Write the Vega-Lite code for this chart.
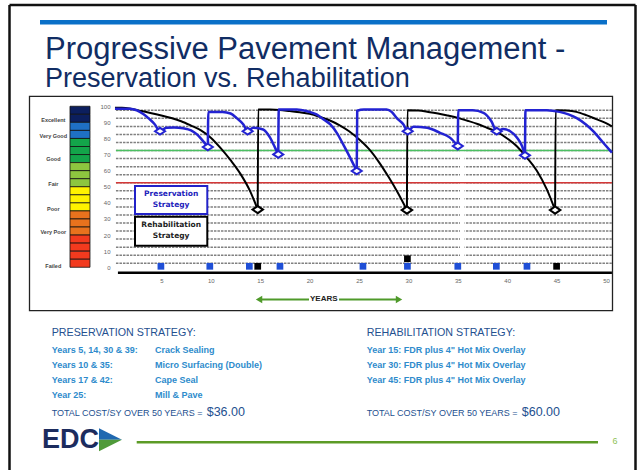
{
  "$schema": "https://vega.github.io/schema/vega-lite/v6.json",
  "width": 638,
  "height": 472,
  "padding": 0,
  "autosize": {"type": "fit", "contains": "padding"},
  "background": "white",
  "config": {"view": {"stroke": null}, "font": "Liberation Sans"},
  "data": {"values": [{}]},
  "datasets": {
    "grid": [{"g": 2.5},{"g": 7.5},{"g": 12.5},{"g": 17.5},{"g": 22.5},{"g": 27.5},{"g": 32.5},{"g": 37.5},{"g": 42.5},{"g": 47.5},{"g": 52.5},{"g": 57.5},{"g": 62.5},{"g": 67.5},{"g": 72.5},{"g": 77.5},{"g": 82.5},{"g": 87.5},{"g": 92.5},{"g": 97.5}],
    "bar": [
      {"lo": 95, "hi": 100, "grade": "Excellent"},
      {"lo": 90, "hi": 95, "grade": "Excellent"},
      {"lo": 85, "hi": 90, "grade": "Very Good"},
      {"lo": 80, "hi": 85, "grade": "Very Good"},
      {"lo": 75, "hi": 80, "grade": "Good"},
      {"lo": 70, "hi": 75, "grade": "Good"},
      {"lo": 65, "hi": 70, "grade": "Good"},
      {"lo": 60, "hi": 65, "grade": "Fair"},
      {"lo": 55, "hi": 60, "grade": "Fair"},
      {"lo": 50, "hi": 55, "grade": "Fair"},
      {"lo": 45, "hi": 50, "grade": "Poor"},
      {"lo": 40, "hi": 45, "grade": "Poor"},
      {"lo": 35, "hi": 40, "grade": "Poor"},
      {"lo": 30, "hi": 35, "grade": "Very Poor"},
      {"lo": 25, "hi": 30, "grade": "Very Poor"},
      {"lo": 20, "hi": 25, "grade": "Very Poor"},
      {"lo": 15, "hi": 20, "grade": "Failed"},
      {"lo": 10, "hi": 15, "grade": "Failed"},
      {"lo": 5, "hi": 10, "grade": "Failed"},
      {"lo": 0, "hi": 5, "grade": "Failed"}
    ],
    "grades": [
      {"grade": "Excellent", "pos": 91.7},
      {"grade": "Very Good", "pos": 81.5},
      {"grade": "Good", "pos": 67},
      {"grade": "Fair", "pos": 52},
      {"grade": "Poor", "pos": 36},
      {"grade": "Very Poor", "pos": 22},
      {"grade": "Failed", "pos": 1}
    ],
    "rehab": [
      {"seg": "r1", "year": 0.3, "pci": 99},{"seg": "r1", "year": 1, "pci": 99},{"seg": "r1", "year": 2, "pci": 98.3},{"seg": "r1", "year": 3, "pci": 97},{"seg": "r1", "year": 4, "pci": 95.7},{"seg": "r1", "year": 5, "pci": 94.3},{"seg": "r1", "year": 6, "pci": 92.7},{"seg": "r1", "year": 7, "pci": 90.7},{"seg": "r1", "year": 8, "pci": 88},{"seg": "r1", "year": 9, "pci": 85},{"seg": "r1", "year": 10, "pci": 80.5},{"seg": "r1", "year": 11, "pci": 74},{"seg": "r1", "year": 12, "pci": 66.5},{"seg": "r1", "year": 13, "pci": 58},{"seg": "r1", "year": 14, "pci": 47},{"seg": "r1", "year": 14.75, "pci": 35.8},
      {"seg": "r2", "year": 14.75, "pci": 35.8},{"seg": "r2", "year": 14.8, "pci": 98},{"seg": "r2", "year": 16, "pci": 98},{"seg": "r2", "year": 17, "pci": 97.7},{"seg": "r2", "year": 18, "pci": 97},{"seg": "r2", "year": 19, "pci": 96.3},{"seg": "r2", "year": 20, "pci": 95.3},{"seg": "r2", "year": 21, "pci": 93.5},{"seg": "r2", "year": 22, "pci": 91.3},{"seg": "r2", "year": 23, "pci": 88.3},{"seg": "r2", "year": 24, "pci": 84.5},{"seg": "r2", "year": 25, "pci": 79.5},{"seg": "r2", "year": 26, "pci": 73.5},{"seg": "r2", "year": 27, "pci": 65.5},{"seg": "r2", "year": 28, "pci": 56},{"seg": "r2", "year": 29, "pci": 45.5},{"seg": "r2", "year": 29.85, "pci": 35.5},
      {"seg": "r3", "year": 29.85, "pci": 35.5},{"seg": "r3", "year": 29.9, "pci": 97.5},{"seg": "r3", "year": 31, "pci": 97.3},{"seg": "r3", "year": 32, "pci": 96.5},{"seg": "r3", "year": 33, "pci": 95.5},{"seg": "r3", "year": 34, "pci": 94.2},{"seg": "r3", "year": 35, "pci": 92.8},{"seg": "r3", "year": 36, "pci": 91},{"seg": "r3", "year": 37, "pci": 89},{"seg": "r3", "year": 38, "pci": 86.5},{"seg": "r3", "year": 39, "pci": 84},{"seg": "r3", "year": 40, "pci": 80},{"seg": "r3", "year": 41, "pci": 75},{"seg": "r3", "year": 42, "pci": 68},{"seg": "r3", "year": 43, "pci": 60},{"seg": "r3", "year": 44, "pci": 48.5},{"seg": "r3", "year": 44.85, "pci": 35.5},
      {"seg": "r4", "year": 44.85, "pci": 35.5},{"seg": "r4", "year": 44.9, "pci": 97.5},{"seg": "r4", "year": 46, "pci": 97.3},{"seg": "r4", "year": 47, "pci": 96.5},{"seg": "r4", "year": 48, "pci": 94.5},{"seg": "r4", "year": 49, "pci": 92},{"seg": "r4", "year": 50, "pci": 89.5},{"seg": "r4", "year": 50.6, "pci": 87.5}
    ],
    "pres": [
      {"seg": "p1", "year": 0.3, "pci": 98.5},{"seg": "p1", "year": 1.8, "pci": 98.5},{"seg": "p1", "year": 2.5, "pci": 97.5},{"seg": "p1", "year": 3.2, "pci": 95},{"seg": "p1", "year": 3.8, "pci": 92},{"seg": "p1", "year": 4.3, "pci": 89},{"seg": "p1", "year": 4.86, "pci": 84.5},{"seg": "p1", "year": 5.5, "pci": 86.6},{"seg": "p1", "year": 6.3, "pci": 86.8},{"seg": "p1", "year": 7.2, "pci": 86.3},{"seg": "p1", "year": 8, "pci": 85},{"seg": "p1", "year": 8.6, "pci": 82.5},{"seg": "p1", "year": 9.2, "pci": 78.5},{"seg": "p1", "year": 9.7, "pci": 74.7},
      {"seg": "p2", "year": 9.7, "pci": 74.7},{"seg": "p2", "year": 9.75, "pci": 96.5},{"seg": "p2", "year": 11.2, "pci": 96.5},{"seg": "p2", "year": 12, "pci": 95.5},{"seg": "p2", "year": 12.6, "pci": 92.8},{"seg": "p2", "year": 13.3, "pci": 88.7},{"seg": "p2", "year": 13.73, "pci": 84.5},{"seg": "p2", "year": 14.3, "pci": 86.6},{"seg": "p2", "year": 15.3, "pci": 85.6},{"seg": "p2", "year": 16, "pci": 80.5},{"seg": "p2", "year": 16.5, "pci": 74.3},{"seg": "p2", "year": 16.83, "pci": 70.1},
      {"seg": "p3", "year": 16.83, "pci": 70.1},{"seg": "p3", "year": 16.88, "pci": 98},{"seg": "p3", "year": 18.7, "pci": 98},{"seg": "p3", "year": 19.7, "pci": 97},{"seg": "p3", "year": 20.7, "pci": 94.9},{"seg": "p3", "year": 21.5, "pci": 91.5},{"seg": "p3", "year": 22.1, "pci": 88.7},{"seg": "p3", "year": 22.8, "pci": 83},{"seg": "p3", "year": 23.4, "pci": 76.3},{"seg": "p3", "year": 24.1, "pci": 68.1},{"seg": "p3", "year": 24.77, "pci": 59.8},
      {"seg": "p4", "year": 24.77, "pci": 59.8},{"seg": "p4", "year": 24.82, "pci": 97.2},{"seg": "p4", "year": 25.5, "pci": 98},{"seg": "p4", "year": 27.8, "pci": 98},{"seg": "p4", "year": 28.3, "pci": 96.5},{"seg": "p4", "year": 28.8, "pci": 92.8},{"seg": "p4", "year": 29.5, "pci": 88.7},{"seg": "p4", "year": 29.93, "pci": 84.5},{"seg": "p4", "year": 30.5, "pci": 87.3},{"seg": "p4", "year": 31.9, "pci": 86.6},{"seg": "p4", "year": 33.2, "pci": 83.5},{"seg": "p4", "year": 34.2, "pci": 80.5},{"seg": "p4", "year": 35, "pci": 75.3},
      {"seg": "p5", "year": 35, "pci": 75.3},{"seg": "p5", "year": 35.05, "pci": 97.5},{"seg": "p5", "year": 36.5, "pci": 97.5},{"seg": "p5", "year": 37.6, "pci": 95.9},{"seg": "p5", "year": 38.4, "pci": 90.7},{"seg": "p5", "year": 38.94, "pci": 84.5},{"seg": "p5", "year": 39.6, "pci": 85.8},{"seg": "p5", "year": 40.3, "pci": 84.5},{"seg": "p5", "year": 41, "pci": 80.5},{"seg": "p5", "year": 41.5, "pci": 75.3},{"seg": "p5", "year": 41.8, "pci": 69.5},
      {"seg": "p6", "year": 41.8, "pci": 69.5},{"seg": "p6", "year": 41.85, "pci": 97.5},{"seg": "p6", "year": 44, "pci": 97.5},{"seg": "p6", "year": 45.3, "pci": 96.5},{"seg": "p6", "year": 46.2, "pci": 95},{"seg": "p6", "year": 47, "pci": 92.8},{"seg": "p6", "year": 48, "pci": 88.5},{"seg": "p6", "year": 48.7, "pci": 84.5},{"seg": "p6", "year": 49.7, "pci": 77.5},{"seg": "p6", "year": 50.6, "pci": 71.2}
    ],
    "rehab_pts": [{"year": 14.75, "pci": 35.8},{"year": 29.85, "pci": 35.5},{"year": 44.85, "pci": 35.5}],
    "pres_pts": [{"year": 4.86, "pci": 84.5},{"year": 9.7, "pci": 74.7},{"year": 13.73, "pci": 84.5},{"year": 16.83, "pci": 70.1},{"year": 24.77, "pci": 59.8},{"year": 29.93, "pci": 84.5},{"year": 35, "pci": 75.3},{"year": 38.94, "pci": 84.5},{"year": 41.8, "pci": 69.5}],
    "pres_treat": [{"year": 4.95, "pci": 0.6},{"year": 9.9, "pci": 0.6},{"year": 13.9, "pci": 0.6},{"year": 17.0, "pci": 0.6},{"year": 25.4, "pci": 0.6},{"year": 29.9, "pci": 0.6},{"year": 35.0, "pci": 0.6},{"year": 38.9, "pci": 0.6},{"year": 42.0, "pci": 0.6}],
    "rehab_treat": [{"year": 14.75, "pci": 0.6},{"year": 29.9, "pci": 5.3},{"year": 45.0, "pci": 0.6}]
  },
  "layer": [
    {"mark": {"type": "rule", "stroke": "#111", "strokeWidth": 2.5}, "encoding": {"x": {"datum": -10.374}, "y": {"datum": 162.89}, "y2": {"datum": -125.85}}},
    {"mark": {"type": "rule", "stroke": "#111", "strokeWidth": 2.5}, "encoding": {"x": {"datum": -10.374}, "x2": {"datum": 52.986}, "y": {"datum": 162.89}}},
    {"mark": {"type": "rule", "stroke": "#111", "strokeWidth": 2.5}, "encoding": {"x": {"datum": 52.986}, "y": {"datum": 162.89}, "y2": {"datum": -125.85}}},
    {"mark": {"type": "rect", "fill": "#0a70c8"}, "encoding": {"x": {"datum": -7.287}, "x2": {"datum": 50.101}, "y": {"datum": 153.61}, "y2": {"datum": 150.83}}},
    {"mark": {"type": "text", "align": "left", "baseline": "alphabetic", "font": "Liberation Sans", "fontSize": 31, "color": "#112d64"}, "encoding": {"x": {"datum": -6.78}, "y": {"datum": 129.5}, "text": {"value": "Progressive Pavement Management -"}}},
    {"mark": {"type": "text", "align": "left", "baseline": "alphabetic", "font": "Liberation Sans", "fontSize": 27, "color": "#112d64"}, "encoding": {"x": {"datum": -6.78}, "y": {"datum": 111.87}, "text": {"value": "Preservation vs. Rehabilitation"}}},
    {"mark": {"type": "rect", "fillOpacity": 0, "stroke": "#222", "strokeWidth": 1.3}, "encoding": {"x": {"datum": -8.35}, "x2": {"datum": 50.658}, "y": {"datum": 106.12}, "y2": {"datum": -26.96}}},
    {
      "data": {"name": "bar"},
      "mark": {"type": "rect", "stroke": "#111", "strokeWidth": 0.8},
      "encoding": {
        "x": {"datum": -4.251}, "x2": {"datum": -2.227},
        "y": {"field": "lo", "type": "quantitative", "title": null}, "y2": {"field": "hi"},
        "color": {"field": "grade", "type": "nominal", "legend": null, "scale": {"domain": ["Excellent", "Very Good", "Good", "Fair", "Poor", "Very Poor", "Failed"], "range": ["#0c1f5e", "#1f70c4", "#13a54a", "#8dc63f", "#fff200", "#e8721d", "#f23a1e"]}}
      }
    },
    {
      "data": {"name": "grades"},
      "mark": {"type": "text", "align": "center", "baseline": "middle", "font": "Liberation Sans", "fontWeight": "bold", "fontSize": 5.5, "color": "#444"},
      "encoding": {"x": {"datum": -5.94}, "y": {"field": "pos", "type": "quantitative", "title": null}, "text": {"field": "grade"}}
    },
    {
      "data": {"name": "grid"},
      "mark": {"type": "rule", "stroke": "#808080", "strokeWidth": 1.5, "strokeDash": [2.5, 1]},
      "encoding": {"x": {"datum": 0.4}, "x2": {"datum": 50.6}, "y": {"field": "g", "type": "quantitative", "title": null}}
    },
    {"mark": {"type": "rect", "fill": "white"}, "encoding": {"x": {"datum": 35.22}, "x2": {"datum": 35.68}, "y": {"datum": 82.5}, "y2": {"datum": 4.1}}},
    {"mark": {"type": "rule", "stroke": "#4cbf62", "strokeWidth": 1.6}, "encoding": {"x": {"datum": 0.4}, "x2": {"datum": 50.6}, "y": {"datum": 72.5}}},
    {"mark": {"type": "rule", "stroke": "#d43838", "strokeWidth": 1.6}, "encoding": {"x": {"datum": 0.4}, "x2": {"datum": 50.6}, "y": {"datum": 52.5}}},
    {"mark": {"type": "rule", "stroke": "#000", "strokeWidth": 2.5}, "encoding": {"x": {"datum": 0.6}, "x2": {"datum": 50.6}, "y": {"datum": -3.46}}},
    {"mark": {"type": "rect", "fill": "white", "stroke": "#2222c8", "strokeWidth": 2}, "encoding": {"x": {"datum": 2.328}, "x2": {"datum": 9.646}, "y": {"datum": 50.53}, "y2": {"datum": 33.02}}},
    {"mark": {"type": "rect", "fill": "white", "stroke": "#000", "strokeWidth": 2}, "encoding": {"x": {"datum": 2.328}, "x2": {"datum": 9.646}, "y": {"datum": 31.35}, "y2": {"datum": 13.42}}},
    {"mark": {"type": "text", "align": "center", "baseline": "alphabetic", "font": "DejaVu Sans", "fontWeight": "bold", "fontSize": 7.5, "lineHeight": 10.7, "color": "#2222bb"}, "encoding": {"x": {"datum": 5.99}, "y": {"datum": 44.16}, "text": {"value": ["Preservation", "Strategy"]}}},
    {"mark": {"type": "text", "align": "center", "baseline": "alphabetic", "font": "DejaVu Sans", "fontWeight": "bold", "fontSize": 7.5, "lineHeight": 11.2, "color": "#222"}, "encoding": {"x": {"datum": 5.99}, "y": {"datum": 25.17}, "text": {"value": ["Rehabilitation", "Strategy"]}}},
    {
      "data": {"name": "rehab"},
      "mark": {"type": "line", "interpolate": "monotone", "stroke": "#000", "strokeWidth": 2},
      "encoding": {"x": {"field": "year", "type": "quantitative", "title": null}, "y": {"field": "pci", "type": "quantitative", "title": null}, "detail": {"field": "seg"}}
    },
    {
      "data": {"name": "pres"},
      "mark": {"type": "line", "interpolate": "monotone", "stroke": "#2323d2", "strokeWidth": 2.5},
      "encoding": {"x": {"field": "year", "type": "quantitative", "title": null}, "y": {"field": "pci", "type": "quantitative", "title": null}, "detail": {"field": "seg"}}
    },
    {
      "data": {"name": "rehab_pts"},
      "mark": {"type": "point", "shape": "M-1,0L0,-0.68L1,0L0,0.68Z", "size": 110, "filled": true, "fill": "white", "stroke": "#000", "strokeWidth": 2, "opacity": 1},
      "encoding": {"x": {"field": "year", "type": "quantitative", "title": null}, "y": {"field": "pci", "type": "quantitative", "title": null}}
    },
    {
      "data": {"name": "pres_pts"},
      "mark": {"type": "point", "shape": "M-1,0L0,-0.68L1,0L0,0.68Z", "size": 100, "filled": true, "fill": "white", "stroke": "#2323d2", "strokeWidth": 2, "opacity": 1},
      "encoding": {"x": {"field": "year", "type": "quantitative", "title": null}, "y": {"field": "pci", "type": "quantitative", "title": null}}
    },
    {
      "data": {"name": "pres_treat"},
      "mark": {"type": "point", "shape": "square", "size": 45, "filled": true, "color": "#1f4fd6", "opacity": 1},
      "encoding": {
        "x": {"field": "year", "type": "quantitative", "title": null,
          "scale": {"domain": [-11.336, 53.239], "nice": false, "zero": false},
          "axis": {"title": null, "values": [5, 10, 15, 20, 25, 30, 35, 40, 45, 50], "offset": -195, "domain": false, "ticks": false, "grid": false, "labelFont": "Liberation Sans", "labelFontSize": 6, "labelColor": "#666", "labelPadding": 2}},
        "y": {"field": "pci", "type": "quantitative", "title": null,
          "scale": {"domain": [-125.91, 165.99], "nice": false, "zero": false},
          "axis": {"title": null, "values": [0, 10, 20, 30, 40, 50, 60, 70, 80, 90, 100], "offset": -112, "domain": false, "ticks": false, "grid": false, "labelFont": "Liberation Sans", "labelFontSize": 6, "labelColor": "#666", "labelPadding": 2}}
      }
    },
    {
      "data": {"name": "rehab_treat"},
      "mark": {"type": "point", "shape": "square", "size": 45, "filled": true, "color": "#000", "opacity": 1},
      "encoding": {"x": {"field": "year", "type": "quantitative", "title": null}, "y": {"field": "pci", "type": "quantitative", "title": null}}
    },
    {"mark": {"type": "rule", "stroke": "#4f9a2a", "strokeWidth": 2}, "encoding": {"x": {"datum": 14.88}, "x2": {"datum": 19.94}, "y": {"datum": -19.98}}},
    {"mark": {"type": "rule", "stroke": "#4f9a2a", "strokeWidth": 2}, "encoding": {"x": {"datum": 22.98}, "x2": {"datum": 28.95}, "y": {"datum": -19.98}}},
    {"mark": {"type": "point", "shape": "triangle-left", "size": 55, "filled": true, "color": "#4f9a2a", "opacity": 1}, "encoding": {"x": {"datum": 14.88}, "y": {"datum": -19.98}}},
    {"mark": {"type": "point", "shape": "triangle-right", "size": 55, "filled": true, "color": "#4f9a2a", "opacity": 1}, "encoding": {"x": {"datum": 29.05}, "y": {"datum": -19.98}}},
    {"mark": {"type": "text", "align": "left", "baseline": "middle", "font": "Liberation Sans", "fontWeight": "bold", "fontSize": 8, "color": "#222"}, "encoding": {"x": {"datum": 20.04}, "y": {"datum": -19.98}, "text": {"value": "YEARS"}}},
    {"mark": {"type": "text", "align": "left", "baseline": "alphabetic", "font": "Liberation Sans", "fontSize": 10.7, "color": "#24508f"}, "encoding": {"x": {"datum": -6.103}, "y": {"datum": -42.42}, "text": {"value": "PRESERVATION STRATEGY:"}}},
    {"mark": {"type": "text", "align": "left", "baseline": "alphabetic", "font": "Liberation Sans", "fontWeight": "bold", "fontSize": 9, "lineHeight": 15, "color": "#2e8bcc"}, "encoding": {"x": {"datum": -6.103}, "y": {"datum": -52.94}, "text": {"value": ["Years 5, 14, 30 & 39:", "Years 10 & 35:", "Years 17 & 42:", "Year  25:"]}}},
    {"mark": {"type": "text", "align": "left", "baseline": "alphabetic", "font": "Liberation Sans", "fontWeight": "bold", "fontSize": 9, "lineHeight": 15, "color": "#2e8bcc"}, "encoding": {"x": {"datum": 4.352}, "y": {"datum": -52.94}, "text": {"value": ["Crack Sealing", "Micro Surfacing (Double)", "Cape Seal", "Mill & Pave"]}}},
    {"mark": {"type": "text", "align": "left", "baseline": "alphabetic", "font": "Liberation Sans", "fontSize": 9, "color": "#24508f"}, "encoding": {"x": {"datum": -6.103}, "y": {"datum": -92.21}, "text": {"value": "TOTAL COST/SY OVER 50 YEARS = "}}},
    {"mark": {"type": "text", "align": "left", "baseline": "alphabetic", "font": "Liberation Sans", "fontSize": 12.5, "color": "#24508f"}, "encoding": {"x": {"datum": 9.585}, "y": {"datum": -92.21}, "text": {"value": "$36.00"}}},
    {"mark": {"type": "text", "align": "left", "baseline": "alphabetic", "font": "Liberation Sans", "fontSize": 10.7, "color": "#24508f"}, "encoding": {"x": {"datum": 25.78}, "y": {"datum": -42.42}, "text": {"value": "REHABILITATION STRATEGY:"}}},
    {"mark": {"type": "text", "align": "left", "baseline": "alphabetic", "font": "Liberation Sans", "fontWeight": "bold", "fontSize": 9, "lineHeight": 15, "color": "#2e8bcc"}, "encoding": {"x": {"datum": 25.78}, "y": {"datum": -52.94}, "text": {"value": ["Year 15:  FDR plus 4\" Hot Mix Overlay", "Year 30:  FDR plus 4\" Hot Mix Overlay", "Year 45:  FDR plus 4\" Hot Mix Overlay"]}}},
    {"mark": {"type": "text", "align": "left", "baseline": "alphabetic", "font": "Liberation Sans", "fontSize": 9, "color": "#24508f"}, "encoding": {"x": {"datum": 25.78}, "y": {"datum": -92.21}, "text": {"value": "TOTAL COST/SY OVER 50 YEARS = "}}},
    {"mark": {"type": "text", "align": "left", "baseline": "alphabetic", "font": "Liberation Sans", "fontSize": 12.5, "color": "#24508f"}, "encoding": {"x": {"datum": 41.47}, "y": {"datum": -92.21}, "text": {"value": "$60.00"}}},
    {"mark": {"type": "text", "align": "left", "baseline": "middle", "font": "Liberation Sans", "fontWeight": "bold", "fontSize": 27, "color": "#1c2c5e"}, "encoding": {"x": {"datum": -7.085}, "y": {"datum": -107.36}, "text": {"value": "EDC"}}},
    {"mark": {"type": "point", "shape": "M-1,-1L1,0L-1,0Z", "size": 529, "filled": true, "color": "#1f68b0", "opacity": 1}, "encoding": {"x": {"datum": -0.152}, "y": {"datum": -107.05}}},
    {"mark": {"type": "point", "shape": "M-1,0L1,0L-1,1Z", "size": 529, "filled": true, "color": "#4f9a3a", "opacity": 1}, "encoding": {"x": {"datum": -0.152}, "y": {"datum": -107.05}}},
    {"mark": {"type": "rule", "stroke": "#5c9b26", "strokeWidth": 2.5}, "encoding": {"x": {"datum": 2.5}, "x2": {"datum": 49.19}, "y": {"datum": -108.72}}},
    {"mark": {"type": "text", "align": "center", "baseline": "middle", "font": "Liberation Sans", "fontSize": 9, "color": "#8fc256"}, "encoding": {"x": {"datum": 50.91}, "y": {"datum": -107.98}, "text": {"value": "6"}}}
  ]
}
